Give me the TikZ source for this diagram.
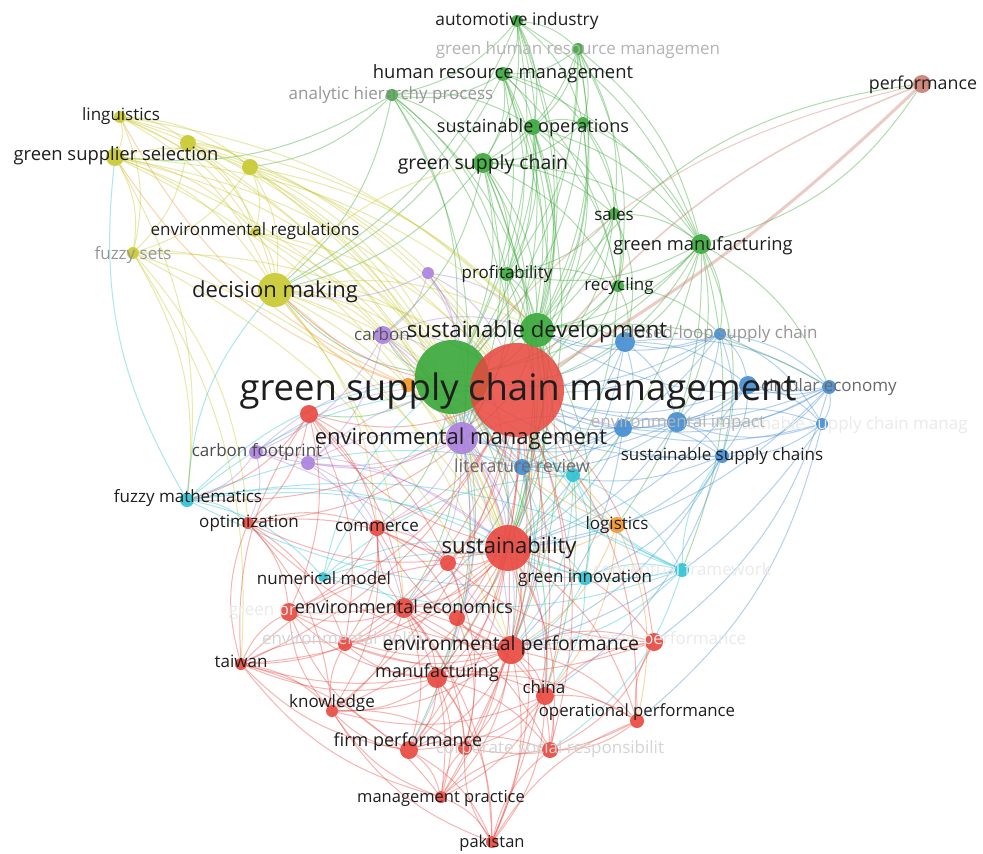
\documentclass[tikz,border=0pt]{standalone}
\usepackage{fontspec}
\setmainfont{Open Sans}
\usetikzlibrary{positioning}
\pgfdeclarelayer{bg}
\pgfdeclarelayer{edges}
\pgfsetlayers{bg,edges,main}
\definecolor{vred}{RGB}{232,70,62}
\definecolor{vgreen}{RGB}{56,168,56}
\definecolor{vblue}{RGB}{66,140,210}
\definecolor{vyellow}{RGB}{200,200,45}
\definecolor{vpurple}{RGB}{170,128,222}
\definecolor{vcyan}{RGB}{45,195,212}
\definecolor{vorange}{RGB}{246,150,40}
\definecolor{vbrown}{RGB}{205,125,112}
\definecolor{txt}{RGB}{30,30,30}
\definecolor{fadeA}{RGB}{150,150,150}
\definecolor{fadeB}{RGB}{180,180,180}
\definecolor{fadeC}{RGB}{212,212,212}
\definecolor{fadeD}{RGB}{234,234,234}
\tikzset{kw/.style={circle, inner sep=0pt, minimum size=#1, draw=none, fill opacity=.9}}
\tikzset{lnk/.style={draw=#1, draw opacity=.4, line width=1pt}}
\tikzset{lab/.style={inner sep=0pt, yshift=-1.5pt, text=txt, font=\fontsize{#1}{#1}\selectfont}}
\tikzset{faint/.style={lab=17, text=#1}}

\begin{document}
\begin{tikzpicture}[x=1pt, y=-1pt]
	\useasboundingbox (0,0) rectangle (983,854);
	\begin{pgfonlayer}{bg}
		\fill[white] (0,0) rectangle (983,854);
	\end{pgfonlayer}
	% green cluster
	\node[kw=12, fill=vgreen] (auto) at (517,21) {};
	\node[kw=12, fill=vgreen] (ghrm) at (578,49) {};
	\node[kw=14, fill=vgreen] (hrm) at (503,74) {};
	\node[kw=12, fill=vgreen] (ahp) at (392,95) {};
	\node[kw=16, fill=vgreen] (sops) at (533,127) {};
	\node[kw=12, fill=vgreen] (sopsb) at (583,123) {};
	\node[kw=20, fill=vgreen] (gsc) at (483,163) {};
	\node[kw=12, fill=vgreen] (sales) at (614,214) {};
	\node[kw=20, fill=vgreen] (gman) at (701,244) {};
	\node[kw=14, fill=vgreen] (profit) at (507,274) {};
	\node[kw=12, fill=vgreen] (recyc) at (618,286) {};
	\node[kw=74, fill=vgreen] (scm) at (452,377) {};
	% red cluster
	\node[kw=94, fill=vred, fill opacity=.85] (gscm) at (517,390) {};
	\node[kw=34, fill=vgreen] (sdev) at (537,330) {};
	\node[kw=18, fill=vred] (redA) at (309,414) {};
	\node[kw=12, fill=vred] (optim) at (248,523) {};
	\node[kw=16, fill=vred] (commerce) at (377,528) {};
	\node[kw=46, fill=vred] (sustain) at (508,548) {};
	\node[kw=16, fill=vred] (redB) at (448,563) {};
	\node[kw=18, fill=vred] (greenp) at (289,612) {};
	\node[kw=20, fill=vred] (enveco) at (404,608) {};
	\node[kw=16, fill=vred] (redC) at (457,618) {};
	\node[kw=14, fill=vred] (envpol) at (345,644) {};
	\node[kw=28, fill=vred] (envperf) at (511,650) {};
	\node[kw=18, fill=vred] (ecoperf) at (654,642) {};
	\node[kw=12, fill=vred] (taiwan) at (241,664) {};
	\node[kw=20, fill=vred] (manuf) at (437,678) {};
	\node[kw=18, fill=vred] (china) at (545,696) {};
	\node[kw=12, fill=vred] (knowl) at (332,711) {};
	\node[kw=14, fill=vred] (operf) at (637,721) {};
	\node[kw=18, fill=vred] (firmp) at (409,750) {};
	\node[kw=14, fill=vred] (redD) at (465,748) {};
	\node[kw=16, fill=vred] (csr) at (550,750) {};
	\node[kw=12, fill=vred] (mprac) at (441,797) {};
	\node[kw=12, fill=vred] (pakis) at (492,842) {};
	% yellow cluster
	\node[kw=12, fill=vyellow] (ling) at (120,117) {};
	\node[kw=16, fill=vyellow] (yelA) at (188,143) {};
	\node[kw=18, fill=vyellow] (gss) at (115,157) {};
	\node[kw=16, fill=vyellow] (yelB) at (250,167) {};
	\node[kw=10, fill=vyellow] (envreg) at (255,232) {};
	\node[kw=12, fill=vyellow] (fuzzy) at (133,253) {};
	\node[kw=34, fill=vyellow] (decis) at (275,290) {};
	% purple cluster
	\node[kw=12, fill=vpurple] (purA) at (428,273) {};
	\node[kw=18, fill=vpurple] (carbon) at (383,335) {};
	\node[kw=32, fill=vpurple] (envman) at (462,438) {};
	\node[kw=14, fill=vpurple] (cfoot) at (256,452) {};
	\node[kw=14, fill=vpurple] (purB) at (308,463) {};
	% blue cluster
	\node[kw=12, fill=vblue] (closed) at (720,334) {};
	\node[kw=20, fill=vblue] (blueA) at (625,342) {};
	\node[kw=14, fill=vblue] (circ) at (829,387) {};
	\node[kw=18, fill=vblue] (blueB) at (748,385) {};
	\node[kw=18, fill=vblue] (blueC) at (623,428) {};
	\node[kw=20, fill=vblue] (envimp) at (677,422) {};
	\node[kw=12, fill=vblue] (ssc) at (822,424) {};
	\node[kw=14, fill=vblue] (sschains) at (722,456) {};
	\node[kw=16, fill=vblue] (litrev) at (522,467) {};
	% cyan cluster
	\node[kw=14, fill=vcyan] (fuzzym) at (187,500) {};
	\node[kw=14, fill=vcyan] (cyanA) at (573,475) {};
	\node[kw=10, fill=vcyan] (numer) at (323,577) {};
	\node[kw=14, fill=vcyan] (ginno) at (585,578) {};
	\node[kw=14, fill=vcyan] (frame) at (682,570) {};
	% orange and brown
	\node[kw=14, fill=vorange] (orangeA) at (408,385) {};
	\node[kw=16, fill=vorange] (logis) at (617,525) {};
	\node[kw=18, fill=vbrown] (perf) at (922,84) {};

	\begin{pgfonlayer}{edges}
		% green links
		\foreach \a/\b in {auto/hrm, auto/ghrm, auto/sops, auto/gsc, auto/scm, auto/gscm, auto/sdev, auto/gman, auto/profit, auto/sopsb, auto/ahp, auto/decis,
			ghrm/hrm, ghrm/sops, ghrm/sopsb, ghrm/gsc, ghrm/scm, ghrm/gscm, ghrm/sdev, ghrm/gman, ghrm/sales, ghrm/profit, ghrm/recyc,
			hrm/ahp, hrm/sops, hrm/gsc, hrm/scm, hrm/gscm, hrm/sdev, hrm/gman, hrm/profit, hrm/recyc, hrm/sopsb, hrm/decis, hrm/sustain,
			ahp/gsc, ahp/scm, ahp/gscm, ahp/decis, ahp/yelB, ahp/gss, ahp/sdev, ahp/envman, ahp/sops, ahp/profit,
			sops/gsc, sops/sopsb, sops/scm, sops/gscm, sops/sdev, sops/gman, sops/sales, sops/profit, sops/recyc, sops/sustain, sops/envman,
			sopsb/scm, sopsb/gscm, sopsb/sdev, sopsb/gman, sopsb/sales, sopsb/recyc, sopsb/gsc,
			gsc/scm, gsc/gscm, gsc/sdev, gsc/profit, gsc/recyc, gsc/sales, gsc/gman, gsc/decis, gsc/envman, gsc/sustain, gsc/envperf, gsc/carbon,
			sales/gman, sales/scm, sales/gscm, sales/sdev, sales/recyc, sales/profit, sales/blueA,
			gman/scm, gman/gscm, gman/sdev, gman/recyc, gman/blueA, gman/closed, gman/circ, gman/envimp, gman/sschains, gman/frame, gman/logis, gman/sustain, gman/profit,
			profit/scm, profit/gscm, profit/sdev, profit/recyc, profit/sustain, profit/envman,
			recyc/scm, recyc/gscm, recyc/sdev, recyc/blueA, recyc/closed, recyc/sustain,
			sdev/scm, sdev/gscm, sdev/envman, sdev/sustain, sdev/envperf, sdev/blueA, sdev/circ, sdev/litrev, sdev/ginno, sdev/manuf, sdev/china,
			scm/gscm, scm/envman, scm/sustain, scm/envperf, scm/decis, scm/carbon, scm/enveco, scm/manuf, scm/china, scm/firmp, scm/redA, scm/commerce}
			\draw[lnk=vgreen] (\a) to[bend left=18] (\b);
		% yellow links
		\foreach \a/\b in {ling/gss, ling/yelA, ling/yelB, ling/decis, ling/fuzzy, ling/envreg, ling/gscm, ling/scm, ling/sdev, ling/envman,
			yelA/gss, yelA/yelB, yelA/decis, yelA/gscm, yelA/scm, yelA/envreg, yelA/fuzzy, yelA/sdev, yelA/sustain,
			gss/yelB, gss/decis, gss/fuzzy, gss/envreg, gss/gscm, gss/scm, gss/fuzzym, gss/sustain, gss/envman, gss/sdev,
			yelB/decis, yelB/envreg, yelB/gscm, yelB/scm, yelB/sdev, yelB/envman, yelB/fuzzy, yelB/sustain,
			envreg/decis, envreg/gscm, envreg/scm, envreg/envman, envreg/sustain,
			fuzzy/decis, fuzzy/gscm, fuzzy/fuzzym, fuzzy/optim, fuzzy/taiwan, fuzzy/envperf, fuzzy/sustain,
			decis/gscm, decis/scm, decis/sdev, decis/envman, decis/sustain, decis/envperf, decis/enveco, decis/carbon, decis/commerce, decis/gsc, decis/litrev}
			\draw[lnk=vyellow] (\a) to[bend left=18] (\b);
		% purple links
		\foreach \a/\b in {purA/gscm, purA/scm, purA/envman, purA/carbon, purA/sdev, purA/decis, purA/sustain,
			carbon/gscm, carbon/scm, carbon/envman, carbon/cfoot, carbon/purB, carbon/sdev, carbon/sustain, carbon/envperf,
			envman/gscm, envman/scm, envman/sustain, envman/envperf, envman/cfoot, envman/purB, envman/litrev, envman/enveco, envman/manuf, envman/blueC, envman/commerce, envman/china, envman/firmp,
			cfoot/purB, cfoot/gscm, cfoot/scm, cfoot/sustain, cfoot/fuzzym, cfoot/optim, cfoot/envperf,
			purB/gscm, purB/envman, purB/sustain, purB/commerce, purB/enveco}
			\draw[lnk=vpurple] (\a) to[bend left=18] (\b);
		% blue links
		\foreach \a/\b in {closed/blueA, closed/circ, closed/blueB, closed/ssc, closed/gscm, closed/scm, closed/sdev, closed/envimp, closed/sschains, closed/litrev,
			blueA/gscm, blueA/scm, blueA/sdev, blueA/blueB, blueA/blueC, blueA/envimp, blueA/circ, blueA/litrev, blueA/sustain,
			circ/blueB, circ/ssc, circ/envimp, circ/sschains, circ/gscm, circ/sdev, circ/blueC, circ/ecoperf, circ/sustain,
			blueB/gscm, blueB/ssc, blueB/envimp, blueB/sschains, blueB/blueC, blueB/sustain,
			blueC/gscm, blueC/envimp, blueC/sschains, blueC/litrev, blueC/envman, blueC/sustain, blueC/envperf,
			envimp/gscm, envimp/ssc, envimp/sschains, envimp/sustain, envimp/envman, envimp/litrev,
			ssc/sschains, ssc/gscm, ssc/envimp, ssc/envperf, ssc/operf,
			sschains/gscm, sschains/scm, sschains/sustain, sschains/litrev, sschains/ginno, sschains/envperf, sschains/china,
			litrev/gscm, litrev/scm, litrev/sustain, litrev/envman, litrev/envperf, litrev/enveco}
			\draw[lnk=vblue] (\a) to[bend left=18] (\b);
		% cyan links
		\foreach \a/\b in {fuzzym/gscm, fuzzym/scm, fuzzym/numer, fuzzym/optim, fuzzym/decis, fuzzym/ginno, fuzzym/frame, fuzzym/gss, fuzzym/cyanA, fuzzym/sustain,
			cyanA/gscm, cyanA/scm, cyanA/ginno, cyanA/sustain, cyanA/frame, cyanA/envperf,
			numer/gscm, numer/enveco, numer/sustain, numer/ginno, numer/cyanA, numer/scm,
			ginno/gscm, ginno/sustain, ginno/frame, ginno/envperf, ginno/china,
			frame/gscm, frame/scm, frame/sustain, frame/envperf, frame/cyanA, frame/sschains, frame/fuzzym, frame/csr, frame/numer}
			\draw[lnk=vcyan] (\a) to[bend left=18] (\b);
		% orange links
		\foreach \a/\b in {orangeA/gscm, orangeA/scm, orangeA/logis, orangeA/decis, orangeA/sustain, orangeA/ling, orangeA/gss,
			logis/gscm, logis/sustain, logis/envperf, logis/china, logis/operf, logis/scm}
			\draw[lnk=vorange] (\a) to[bend left=18] (\b);
		% red links
		\foreach \a/\b in {gscm/sustain, gscm/envperf, gscm/enveco, gscm/manuf, gscm/china, gscm/firmp, gscm/operf, gscm/csr, gscm/mprac, gscm/pakis, gscm/knowl, gscm/taiwan, gscm/commerce, gscm/optim, gscm/redA, gscm/redB, gscm/redC, gscm/redD, gscm/envpol, gscm/greenp, gscm/ecoperf, gscm/decis, gscm/fuzzym,
			sustain/envperf, sustain/enveco, sustain/manuf, sustain/china, sustain/firmp, sustain/operf, sustain/csr, sustain/mprac, sustain/pakis, sustain/commerce, sustain/redB, sustain/redC, sustain/ecoperf, sustain/knowl, sustain/taiwan, sustain/optim, sustain/redA, sustain/greenp, sustain/envpol,
			envperf/enveco, envperf/manuf, envperf/china, envperf/firmp, envperf/operf, envperf/csr, envperf/mprac, envperf/pakis, envperf/ecoperf, envperf/knowl, envperf/taiwan, envperf/redD, envperf/redC, envperf/envpol, envperf/greenp, envperf/commerce, envperf/optim,
			enveco/manuf, enveco/china, enveco/firmp, enveco/greenp, enveco/envpol, enveco/commerce, enveco/redC, enveco/knowl, enveco/taiwan, enveco/mprac, enveco/redD, enveco/pakis, enveco/csr,
			manuf/china, manuf/firmp, manuf/mprac, manuf/pakis, manuf/knowl, manuf/redD, manuf/csr, manuf/taiwan, manuf/operf, manuf/greenp, manuf/envpol,
			china/firmp, china/operf, china/csr, china/mprac, china/pakis, china/ecoperf, china/redD, china/knowl,
			firmp/mprac, firmp/pakis, firmp/redD, firmp/csr, firmp/knowl, firmp/taiwan, firmp/greenp,
			mprac/pakis, mprac/redD, mprac/csr, mprac/knowl, mprac/taiwan,
			pakis/redD, pakis/csr, pakis/operf, pakis/knowl, operf/ecoperf, operf/csr, operf/redD,
			ecoperf/csr, ecoperf/redC, ecoperf/envpol, ecoperf/redB,
			taiwan/greenp, taiwan/knowl, taiwan/envpol, taiwan/optim, taiwan/redA, taiwan/mprac, taiwan/redB,
			redA/commerce, redA/optim, redA/greenp, redA/envpol, redA/fuzzym, redA/redB, redA/enveco,
			optim/greenp, optim/commerce, optim/envpol, optim/knowl, optim/redB,
			commerce/redB, commerce/greenp, commerce/envpol, commerce/redC, commerce/knowl,
			knowl/envpol, knowl/redD, knowl/greenp, redB/redC, redB/redD, redC/redD}
			\draw[lnk=vred] (\a) to[bend left=18] (\b);
		% performance links
		\draw[lnk=vbrown, line width=3pt] (perf) to[bend left=6] (gscm);
		\draw[lnk=vbrown, line width=1.5pt] (perf) to[bend right=14] (gscm);
		\draw[lnk=vgreen] (perf) to[bend left=20] (gman);
		\draw[lnk=vgreen] (perf) to[bend right=25] (sdev);
		\draw[lnk=vbrown] (perf) to[bend right=18] (scm);
	\end{pgfonlayer}

	% faded labels
	\node[faint=fadeD] at (289,610) {green products};
	\node[faint=fadeD] at (841,424) {sustainable supply chain manag};
	\node[faint=fadeD] at (682,570) {conceptual framework};
	\node[faint=fadeD] at (654,639) {economic performance};
	\node[faint=fadeC] at (550,748) {corporate social responsibilit};
	\node[faint=fadeC] at (345,639) {environmental policy};
	\node[faint=fadeB] at (578,49) {green human resource managemen};
	\node[faint=fadeB] at (678,422) {environmental impact};
	\node[faint=fadeA] at (720,333) {closed-loop supply chain};
	\node[faint=fadeA] at (391,94) {analytic hierarchy process};
	\node[faint=fadeA] at (133,254) {fuzzy sets};
	\node[faint=fadeA!70!black] at (829,386) {circular economy};
	% labels
	\node[lab=17.3] at (517,20) {automotive industry};
	\node[lab=18.4] at (503,72) {human resource management};
	\node[lab=18.1] at (533,126) {sustainable operations};
	\node[lab=19.4] at (483,163) {green supply chain};
	\node[lab=17] at (614,213) {sales};
	\node[lab=18.3] at (703,244) {green manufacturing};
	\node[lab=17] at (507,273) {profitability};
	\node[lab=17] at (619,285) {recycling};
	\node[lab=17] at (121,115) {linguistics};
	\node[lab=18.4] at (116,154) {green supplier selection};
	\node[lab=17] at (255,230) {environmental regulations};
	\node[lab=22] at (275,290) {decision making};
	\node[lab=17, text=txt!75] at (382,333) {carbon};
	\node[lab=22.2] at (537,330) {sustainable development};
	\node[lab=36.5] at (518,390) {green supply chain management};
	\node[lab=22] at (461,437) {environmental management};
	\node[lab=17, text=txt!80] at (257,451) {carbon footprint};
	\node[lab=18, text=txt!65] at (522,464) {literature review};
	\node[lab=17] at (722,455) {sustainable supply chains};
	\node[lab=17] at (188,497) {fuzzy mathematics};
	\node[lab=17] at (249,522) {optimization};
	\node[lab=17] at (377,525) {commerce};
	\node[lab=17] at (617,524) {logistics};
	\node[lab=22] at (509,546) {sustainability};
	\node[lab=17] at (324,577) {numerical model};
	\node[lab=17] at (585,577) {green innovation};
	\node[lab=18.1] at (404,605) {environmental economics};
	\node[lab=19.5] at (511,644) {environmental performance};
	\node[lab=17] at (241,660) {taiwan};
	\node[lab=18] at (437,671) {manufacturing};
	\node[lab=17] at (544,686) {china};
	\node[lab=17] at (332,702) {knowledge};
	\node[lab=16.8] at (637,711) {operational performance};
	\node[lab=18] at (408,740) {firm performance};
	\node[lab=16.5] at (441,797) {management practice};
	\node[lab=16.5] at (492,842) {pakistan};
	\node[lab=17.8] at (923,83) {performance};
\end{tikzpicture}
\end{document}
